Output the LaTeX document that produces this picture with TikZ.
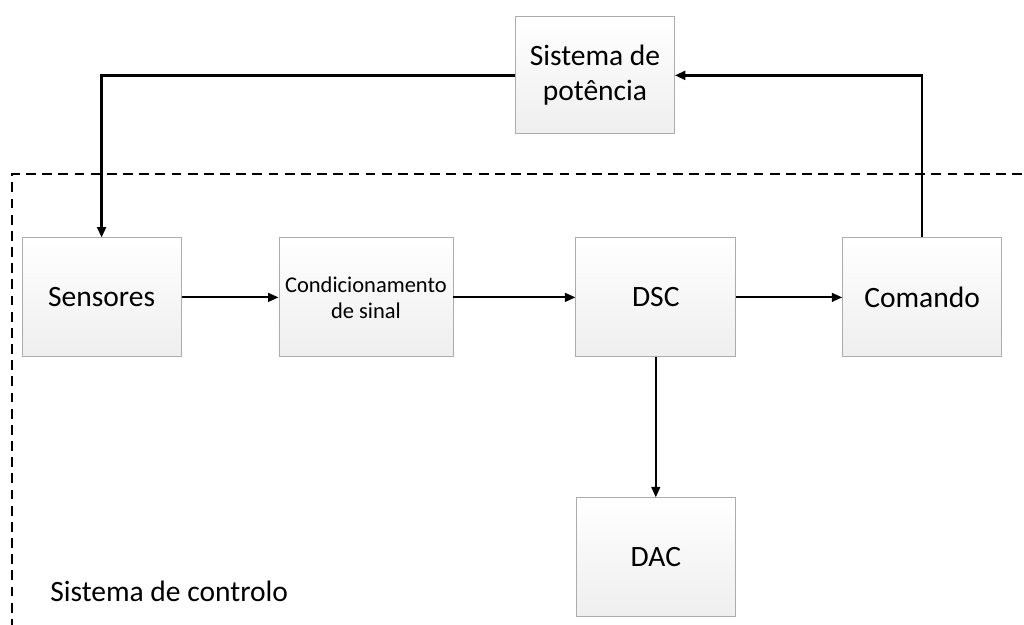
\documentclass[tikz,border=0pt]{standalone}
\usepackage{fontspec}
\setmainfont{Carlito}
\usetikzlibrary{positioning,arrows.meta}
\tikzset{
    ctrlblock/.style={draw=gray!65, line width=0.6pt, align=center, minimum width=3.975cm, minimum height=2.975cm, top color=white, bottom color=gray!13, font=\fontsize{21}{25}\selectfont},
    ctrlarrow/.style={draw, -{Triangle[length=2.6mm, width=2.2mm]}, line width=1.3pt},
    ctrlfeed/.style={ctrlarrow, line width=1.8pt},
    ctrlboundary/.style={draw, dash pattern=on 7pt off 4.5pt, line width=0.8pt}
}

\begin{document}
\begin{tikzpicture}
    \clip (0,0) rectangle (25.6,15.625);
    % control chain
    \node[ctrlblock] (sens) at (2.54,8.19) {Sensores};
    \node[ctrlblock, minimum width=4.35cm, font=\fontsize{16}{18.5}\selectfont, right=2.425cm of sens] (cond) {Condicionamento\\de sinal};
    \node[ctrlblock, minimum width=4.0cm, right=3.05cm of cond] (dsc) {DSC};
    \node[ctrlblock, right=2.65cm of dsc] (cmd) {Comando};
    \node[ctrlblock, below=3.5cm of dsc] (dac) {DAC};
    \node[ctrlblock, minimum height=2.925cm] (pot) at (14.875,13.74) {Sistema de\\potência};

    % boundary of the control system
    \draw[ctrlboundary] (0.3,-0.5) |- (26,11.275);
    \node[anchor=base west, inner sep=0pt, font=\fontsize{21}{25}\selectfont] (ctrl) at (1.25,0.575) {Sistema de controlo};

    \draw[ctrlarrow] (sens) -- (cond);
    \draw[ctrlarrow] (cond) -- (dsc);
    \draw[ctrlarrow] (dsc) -- (cmd);
    \draw[ctrlarrow] (dsc) -- (dac);
    \draw[ctrlfeed] (cmd.north) |- (pot.east);
    \draw[ctrlfeed] (pot.west) -| (sens.north);
\end{tikzpicture}
\end{document}
